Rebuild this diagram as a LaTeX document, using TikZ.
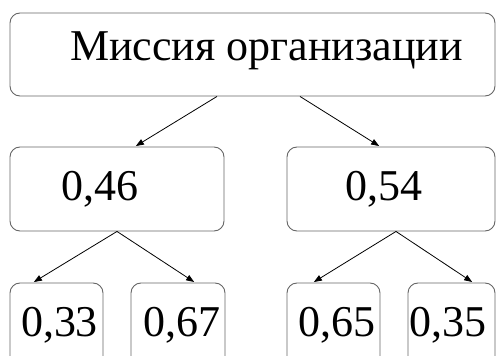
\documentclass[tikz,border=0pt]{standalone}
\usepackage{fontspec}
\setmainfont{Liberation Serif}
\usetikzlibrary{positioning,arrows.meta}

\begin{document}
\begin{tikzpicture}[x=1pt, y=-1pt, >={Triangle[length=8pt, width=6pt]}, shorten >=1pt,
  block/.style={draw=black!60, line width=0.9pt, rounded corners=10pt, inner sep=0pt, minimum height=84pt},
  value/.style={font=\fontsize{44}{50}\selectfont, inner sep=0pt}]
\useasboundingbox (0,0) rectangle (496,356);
\clip (0,0) rectangle (496,356);
\node[block, minimum width=485pt, minimum height=83pt,
  label={[value, xshift=14pt, yshift=4pt]center:Миссия организации}] (mission) at (252.5,54.5) {};
\node[block, minimum width=214pt, label={[value, xshift=-17.5pt]center:0,46}] (p46) at (117,189) {};
\node[block, minimum width=208pt, label={[value, xshift=-7pt]center:0,54}] (p54) at (391,189) {};
\node[block, minimum width=93pt, label={[value, xshift=3pt]center:0,33}] (p33) at (56.5,325) {};
\node[block, minimum width=94pt, label={[value, xshift=3.5pt]center:0,67}] (p67) at (178,325) {};
\node[block, minimum width=93pt, label={[value, xshift=3pt]center:0,65}] (p65) at (333.5,325) {};
\node[block, minimum width=87pt, label={[value, xshift=-4pt]center:0,35}] (p35) at (451.5,325) {};
\path[->, line width=0.8pt]
([xshift=-35.5pt]mission.south) edge ([xshift=18pt]p46.north)
([xshift=47.5pt]mission.south) edge ([xshift=-11pt]p54.north)
(p46.south) edge ([xshift=-23.5pt]p33.north)
(p46.south) edge ([xshift=17pt]p67.north)
([xshift=5pt]p54.south) edge ([xshift=-20.5pt]p65.north)
([xshift=5pt]p54.south) edge ([xshift=21.5pt]p35.north);
\end{tikzpicture}
\end{document}
